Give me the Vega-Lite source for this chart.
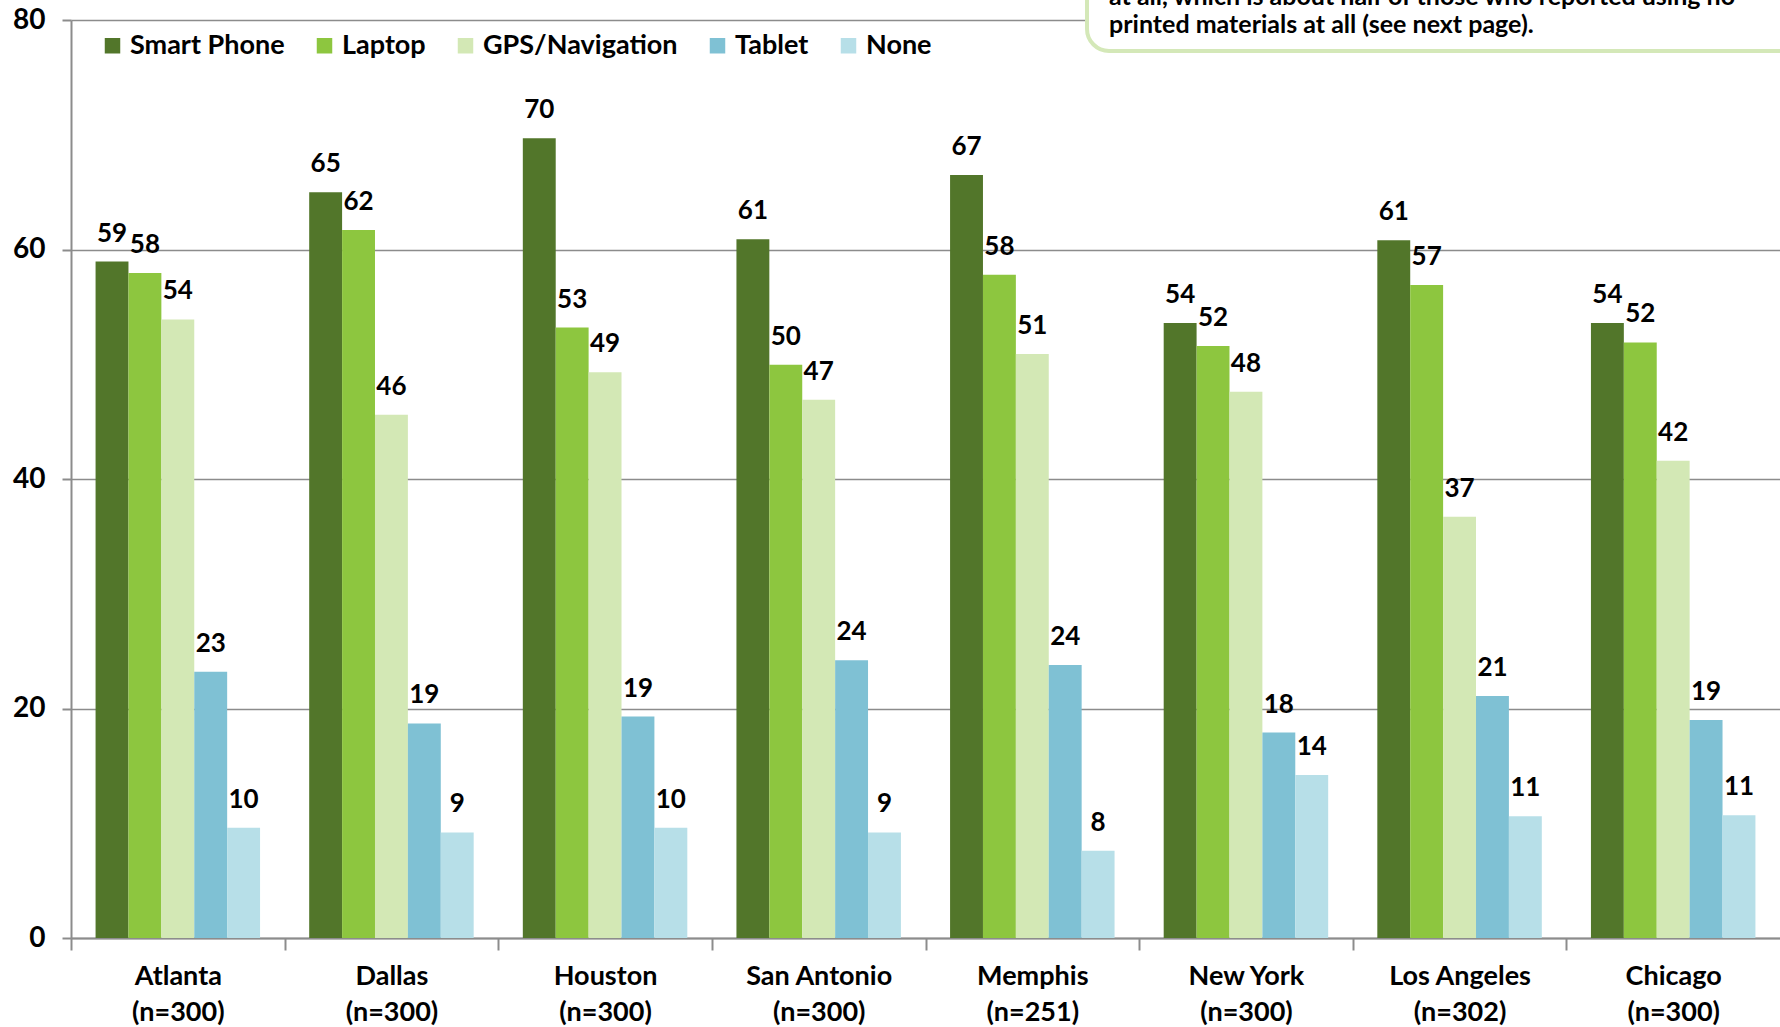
{
  "$schema": "https://vega.github.io/schema/vega-lite/v6.json",
  "autosize": {"type": "none"},
  "padding": {"left": 71, "top": 20, "right": 0, "bottom": 89},
  "width": 1709,
  "height": 918,
  "background": "white",
  "config": {
    "view": {"stroke": null},
    "font": "Lato",
    "text": {"font": "Lato"}
  },
  "datasets": {
    "bars": [
      {"city": "Atlanta (n=300)", "device": "Smart Phone", "value": 58.95},
      {"city": "Atlanta (n=300)", "device": "Laptop", "value": 57.96},
      {"city": "Atlanta (n=300)", "device": "GPS/Navigation", "value": 53.9},
      {"city": "Atlanta (n=300)", "device": "Tablet", "value": 23.2},
      {"city": "Atlanta (n=300)", "device": "None", "value": 9.6},
      {"city": "Dallas (n=300)", "device": "Smart Phone", "value": 65.0},
      {"city": "Dallas (n=300)", "device": "Laptop", "value": 61.7},
      {"city": "Dallas (n=300)", "device": "GPS/Navigation", "value": 45.6},
      {"city": "Dallas (n=300)", "device": "Tablet", "value": 18.7},
      {"city": "Dallas (n=300)", "device": "None", "value": 9.2},
      {"city": "Houston (n=300)", "device": "Smart Phone", "value": 69.7},
      {"city": "Houston (n=300)", "device": "Laptop", "value": 53.2},
      {"city": "Houston (n=300)", "device": "GPS/Navigation", "value": 49.3},
      {"city": "Houston (n=300)", "device": "Tablet", "value": 19.3},
      {"city": "Houston (n=300)", "device": "None", "value": 9.6},
      {"city": "San Antonio (n=300)", "device": "Smart Phone", "value": 60.9},
      {"city": "San Antonio (n=300)", "device": "Laptop", "value": 49.95},
      {"city": "San Antonio (n=300)", "device": "GPS/Navigation", "value": 46.9},
      {"city": "San Antonio (n=300)", "device": "Tablet", "value": 24.2},
      {"city": "San Antonio (n=300)", "device": "None", "value": 9.2},
      {"city": "Memphis (n=251)", "device": "Smart Phone", "value": 66.5},
      {"city": "Memphis (n=251)", "device": "Laptop", "value": 57.8},
      {"city": "Memphis (n=251)", "device": "GPS/Navigation", "value": 50.9},
      {"city": "Memphis (n=251)", "device": "Tablet", "value": 23.8},
      {"city": "Memphis (n=251)", "device": "None", "value": 7.6},
      {"city": "New York (n=300)", "device": "Smart Phone", "value": 53.6},
      {"city": "New York (n=300)", "device": "Laptop", "value": 51.6},
      {"city": "New York (n=300)", "device": "GPS/Navigation", "value": 47.6},
      {"city": "New York (n=300)", "device": "Tablet", "value": 17.9},
      {"city": "New York (n=300)", "device": "None", "value": 14.2},
      {"city": "Los Angeles (n=302)", "device": "Smart Phone", "value": 60.8},
      {"city": "Los Angeles (n=302)", "device": "Laptop", "value": 56.9},
      {"city": "Los Angeles (n=302)", "device": "GPS/Navigation", "value": 36.7},
      {"city": "Los Angeles (n=302)", "device": "Tablet", "value": 21.1},
      {"city": "Los Angeles (n=302)", "device": "None", "value": 10.6},
      {"city": "Chicago (n=300)", "device": "Smart Phone", "value": 53.6},
      {"city": "Chicago (n=300)", "device": "Laptop", "value": 51.9},
      {"city": "Chicago (n=300)", "device": "GPS/Navigation", "value": 41.6},
      {"city": "Chicago (n=300)", "device": "Tablet", "value": 19.0},
      {"city": "Chicago (n=300)", "device": "None", "value": 10.7}
    ],
    "note": [
      {"x": 0.5945, "x2": 1.05, "y": 77.3, "y2": 84}
    ],
    "notetext": [
      {"x": 0.6074, "y": 81.3, "text": "at all, which is about half of those who reported using no"},
      {"x": 0.6074, "y": 78.9, "text": "printed materials at all (see next page)."}
    ]
  },
  "layer": [
    {
      "data": {"name": "bars"},
      "encoding": {
        "x": {
          "field": "city", "type": "nominal", "sort": null,
          "scale": {"paddingInner": 0.23, "paddingOuter": 0.115},
          "axis": {
            "title": null,
            "labelAngle": 0,
            "labelExpr": "indexof(datum.label, ' (') > 0 ? [split(datum.label, ' (')[0], '(' + split(datum.label, ' (')[1]] : datum.label",
            "labelFont": "Lato", "labelFontWeight": "bold", "labelFontSize": 27,
            "labelColor": "black", "labelLineHeight": 36, "labelPadding": 13,
            "tickOffset": -106.8, "labelOffset": 106.8,
            "tickSize": 12, "tickColor": "#8c8c8c", "tickWidth": 2,
            "domainColor": "#8c8c8c", "domainWidth": 2, "grid": false
          }
        },
        "xOffset": {
          "field": "device", "type": "nominal",
          "sort": ["Smart Phone", "Laptop", "GPS/Navigation", "Tablet", "None"],
          "scale": {"paddingInner": 0, "paddingOuter": 0}
        },
        "y": {
          "field": "value", "type": "quantitative",
          "scale": {"domain": [0, 80], "nice": false},
          "axis": {
            "title": null, "values": [0, 20, 40, 60, 80],
            "labelFont": "Lato", "labelFontWeight": "bold", "labelFontSize": 28,
            "labelColor": "black", "labelPadding": 17,
            "tickSize": 9, "tickColor": "#8c8c8c", "tickWidth": 2,
            "domainColor": "#8c8c8c", "domainWidth": 2,
            "grid": true, "gridColor": "#8c8c8c", "gridWidth": 1.5
          }
        }
      },
      "layer": [
        {
          "mark": {"type": "bar"},
          "encoding": {
            "color": {
              "field": "device", "type": "nominal",
              "scale": {
                "domain": ["Smart Phone", "Laptop", "GPS/Navigation", "Tablet", "None"],
                "range": ["#52762a", "#8dc63f", "#d3e8b5", "#7fc1d4", "#b7dfe8"]
              },
              "legend": {
                "title": null, "orient": "none", "direction": "horizontal",
                "legendX": 28, "legendY": 12,
                "symbolType": "square", "symbolSize": 240, "symbolStrokeWidth": 0,
                "labelFont": "Lato", "labelFontWeight": "bold", "labelFontSize": 27,
                "labelColor": "black", "labelOffset": 4, "columnPadding": 26, "labelLimit": 0
              }
            }
          }
        },
        {
          "mark": {"type": "text", "baseline": "alphabetic", "align": "center", "dy": -20,
                   "font": "Lato", "fontWeight": "bold", "fontSize": 26, "color": "black"},
          "encoding": {
            "text": {"field": "value", "type": "quantitative", "format": ".0f"}
          }
        }
      ]
    },
    {
      "layer": [
        {
          "data": {"name": "note"},
          "mark": {"type": "rect", "fill": "white", "stroke": "#d4e8b8", "strokeWidth": 4, "cornerRadius": 22},
          "encoding": {
            "x": {"field": "x", "type": "quantitative", "scale": {"domain": [0, 1], "nice": false, "zero": false}, "axis": null},
            "x2": {"field": "x2"},
            "y": {"field": "y", "type": "quantitative", "scale": {"domain": [0, 80], "nice": false}},
            "y2": {"field": "y2"}
          }
        },
        {
          "data": {"name": "notetext"},
          "mark": {"type": "text", "align": "left", "baseline": "alphabetic",
                   "font": "Lato", "fontWeight": "bold", "fontSize": 25, "color": "black"},
          "encoding": {
            "x": {"field": "x", "type": "quantitative", "scale": {"domain": [0, 1], "nice": false, "zero": false}, "axis": null},
            "y": {"field": "y", "type": "quantitative", "scale": {"domain": [0, 80], "nice": false}},
            "text": {"field": "text"}
          }
        }
      ]
    }
  ],
  "resolve": {"scale": {"x": "independent"}}
}
